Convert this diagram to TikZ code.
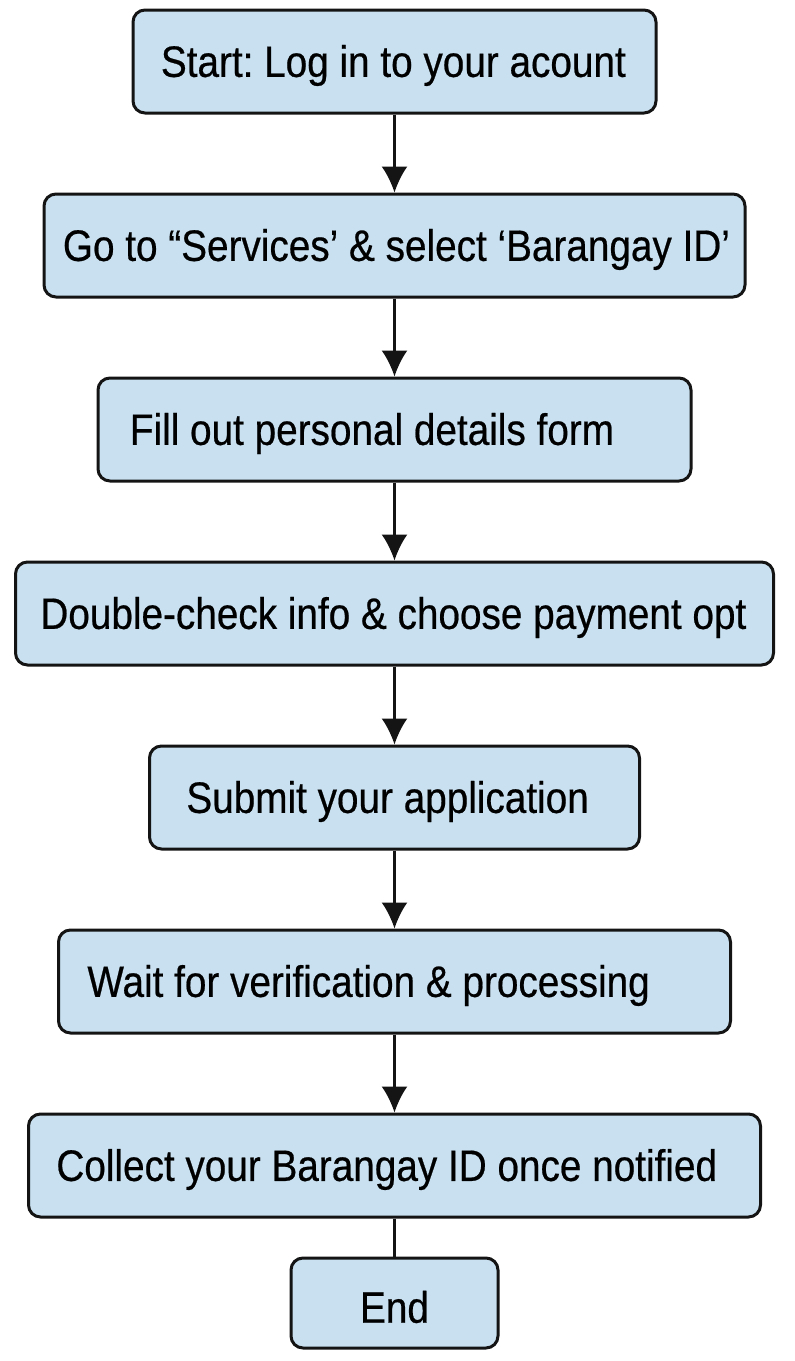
\documentclass[tikz,border=0pt]{standalone}
\usepackage{fontspec}
\setmainfont{Liberation Sans}[FakeStretch=0.88, FakeBold=0.5]
\usetikzlibrary{positioning,arrows.meta}
\frenchspacing

\definecolor{boxblue}{RGB}{200,224,240}
\definecolor{boxline}{RGB}{20,20,20}

\tikzset{
  stepbox/.style  = {shape=rectangle, rounded corners=6pt,
                     draw=boxline, line width=1.5pt, fill=boxblue,
                     minimum height=51.5pt, inner sep=0pt},
  endbox/.style   = {stepbox, minimum height=45pt},
  steptext/.style = {font=\fontsize{22}{26}\selectfont, inner sep=0pt, yshift=-2pt},
  flow/.style     = {draw=boxline, line width=1.2pt, -{Latex[length=13pt,width=13pt]}},
  link/.style     = {draw=boxline, line width=1.2pt}
}

\begin{document}
\begin{tikzpicture}
[
x=0.5pt, y=-0.5pt,
    node distance = 39pt
  ]
\useasboundingbox (0,0) rectangle (794,1361);

% the boxes
\node[stepbox, minimum width=261.5pt] (start) at (394.5,61.5) {};
\node[stepbox, minimum width=350.5pt, below=of start] (services) {};
\node[stepbox, minimum width=296.5pt, below=of services] (details) {};
\node[stepbox, minimum width=379pt, below=of details] (review) {};
\node[stepbox, minimum width=245pt, below=of review] (submit) {};
\node[stepbox, minimum width=336pt, below=of submit] (verify) {};
\node[stepbox, minimum width=366pt, below=of verify] (collect) {};
\node[endbox, minimum width=103.5pt, below=19pt of collect] (finish) {};

% the texts
\node[steptext, right=14.5pt of start.west] (startlbl) {Start: Log in to your acount};
\node[steptext, right=10pt of services.west] (serviceslbl) {Go to “Services’ \& select ‘Barangay ID’};
\node[steptext, right=16.5pt of details.west] (detailslbl) {Fill out personal details form};
\node[steptext, right=13pt of review.west] (reviewlbl) {Double-check info \& choose payment opt};
\node[steptext, right=19pt of submit.west] (submitlbl) {Submit your application};
\node[steptext, right=15pt of verify.west] (verifylbl) {Wait for verification \& processing};
\node[steptext, right=14.5pt of collect.west] (collectlbl) {Collect your Barangay ID once notified};
\node[steptext] (finishlbl) at (finish) {End};

% the connectors
\foreach \from/\to in {start/services, services/details, details/review,
                       review/submit, submit/verify, verify/collect}
  \draw[flow] (\from) -- (\to);
\draw[link] (collect) -- (finish);
\end{tikzpicture}
\end{document}
